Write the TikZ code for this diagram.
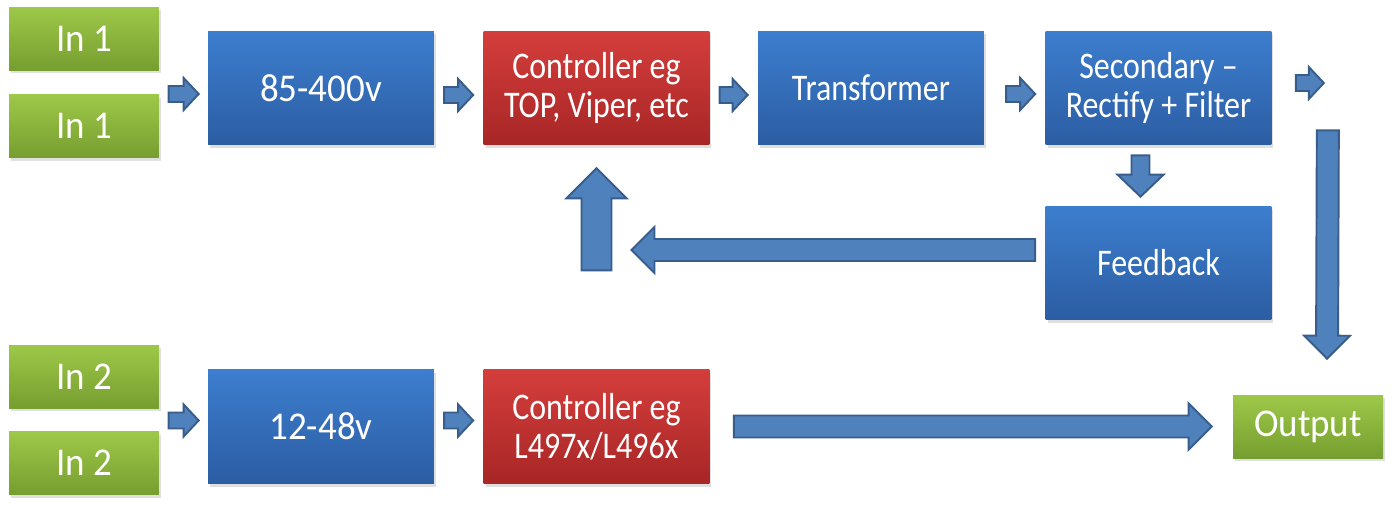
\documentclass[tikz,border=0pt]{standalone}
\usepackage{fontspec}
\setmainfont{Carlito}[FakeStretch=0.94]
\newfontfamily\boxfont{Carlito}[FakeStretch=0.85, Ligatures=TeX]
\usetikzlibrary{calc,shadows}

\definecolor{bluetop}{RGB}{60,126,206}
\definecolor{bluebot}{RGB}{44,93,163}
\definecolor{redtop}{RGB}{212,62,60}
\definecolor{redbot}{RGB}{168,38,38}
\definecolor{greentop}{RGB}{158,200,72}
\definecolor{greenbot}{RGB}{118,158,48}
\definecolor{arrowfill}{RGB}{79,129,189}
\definecolor{arrowedge}{RGB}{56,93,138}

\newcommand{\pxl}{0.02cm}

\begin{document}
\begin{tikzpicture}[
        x=0.02cm, y=-0.02cm,
        every node/.style={text=white, align=center, font=\boxfont\fontsize{21.4}{22.2}\selectfont},
        box/.style={rectangle, inner sep=0pt, minimum width=4.52cm, minimum height=2.28cm,
            drop shadow={opacity=0.25, shadow xshift=0.04cm, shadow yshift=-0.06cm}},
        blue_box/.style={box, top color=bluetop, bottom color=bluebot},
        red_box/.style={box, top color=redtop, bottom color=redbot},
        green_box/.style={box, top color=greentop, bottom color=greenbot, minimum width=3cm, minimum height=1.26cm},
        big_text/.style={font=\rmfamily\fontsize{22.4}{26}\selectfont},
        block/.style n args={3}{draw=arrowedge, fill=arrowfill, line width=1.1pt, line join=miter,
            to path={let \p1=(\tikztostart), \p2=(\tikztotarget),
                \n1={veclen(\x2-\x1,\y2-\y1)}, \n2={(\x2-\x1)/\n1}, \n3={(\y2-\y1)/\n1} in
                ({\x1-\n3*#1*\pxl},{\y1+\n2*#1*\pxl})
                -- ({\x2-\n2*#3*\pxl-\n3*#1*\pxl},{\y2-\n3*#3*\pxl+\n2*#1*\pxl})
                -- ({\x2-\n2*#3*\pxl-\n3*#2*\pxl},{\y2-\n3*#3*\pxl+\n2*#2*\pxl})
                -- (\p2)
                -- ({\x2-\n2*#3*\pxl+\n3*#2*\pxl},{\y2-\n3*#3*\pxl-\n2*#2*\pxl})
                -- ({\x2-\n2*#3*\pxl+\n3*#1*\pxl},{\y2-\n3*#3*\pxl-\n2*#1*\pxl})
                -- ({\x1+\n3*#1*\pxl},{\y1-\n2*#1*\pxl}) -- cycle}},
        small_arrow/.style={block={8}{16}{15}},
        drop_arrow/.style={block={9}{23}{22}},
        wide_arrow/.style={block={11}{23}{23}},
        up_arrow/.style={block={15}{30}{30}}
        ]
        \useasboundingbox (0,0) rectangle (1395,508);

        % Inputs
        \node[green_box, big_text] (InA) at (84,38.5) {In 1};
        \node[green_box, big_text] (InB) at (84,126) {In 1};
        \node[green_box, big_text] (InC) at (84,376.5) {In 2};
        \node[green_box, big_text] (InD) at (84,463) {In 2};

        % Top chain
        \node[blue_box, big_text] (HV) at (321,88) {85-400v};
        \node[red_box] (CtrlHV) at (596.5,88) {Controller eg\\TOP, Viper, etc};
        \node[blue_box] (Trans) at (871,88) {Transformer};
        \node[blue_box] (Sec) at (1158.5,88) {Secondary –\\Rectify + Filter};
        \node[blue_box] (FB) at (1158.5,263) {Feedback};

        % Bottom chain
        \node[blue_box, big_text] (LV) at (321,426.5) {12-48v};
        \node[red_box] (CtrlLV) at (596.5,426.5) {Controller eg\\L497x/L496x};
        \node[green_box, big_text] (Out) at (1308,426.5) {Output};

        % Small arrows between boxes
        \path[small_arrow] ($(HV.west)+(-39,6)$) to ($(HV.west)+(-9,6)$);
        \path[small_arrow] ($(CtrlHV.west)+(-39,7)$) to ($(CtrlHV.west)+(-10,7)$);
        \path[small_arrow] ($(Trans.west)+(-38,7)$) to ($(Trans.west)+(-10,7)$);
        \path[small_arrow] ($(Sec.west)+(-39,6)$) to ($(Sec.west)+(-10,6)$);
        \path[small_arrow] ($(Sec.east)+(24,-5)$) to ($(Sec.east)+(52,-5)$);
        \path[small_arrow] ($(LV.west)+(-39,-6)$) to ($(LV.west)+(-9,-6)$);
        \path[small_arrow] ($(CtrlLV.west)+(-39,-6)$) to ($(CtrlLV.west)+(-10,-6)$);

        % Feedback loop
        \path[drop_arrow] ($(Sec.south)+(-18,10)$) to ($(FB.north)+(-18,-9)$);
        \path[wide_arrow] ($(FB.west)+(-10,-13)$) to ($(FB.west -| CtrlHV.south)+(35,-13)$);
        \path[up_arrow] ($(CtrlHV.south)+(0,125)$) to ($(CtrlHV.south)+(0,23)$);

        % To the output
        \path[wide_arrow] ($(Sec.south east)+(56,-15)$) to ($(Out.north)+(19,-36)$);
        \path[wide_arrow] ($(CtrlLV.east)+(24,0)$) to ($(Out.west)+(-21,0)$);

    \end{tikzpicture}
\end{document}
